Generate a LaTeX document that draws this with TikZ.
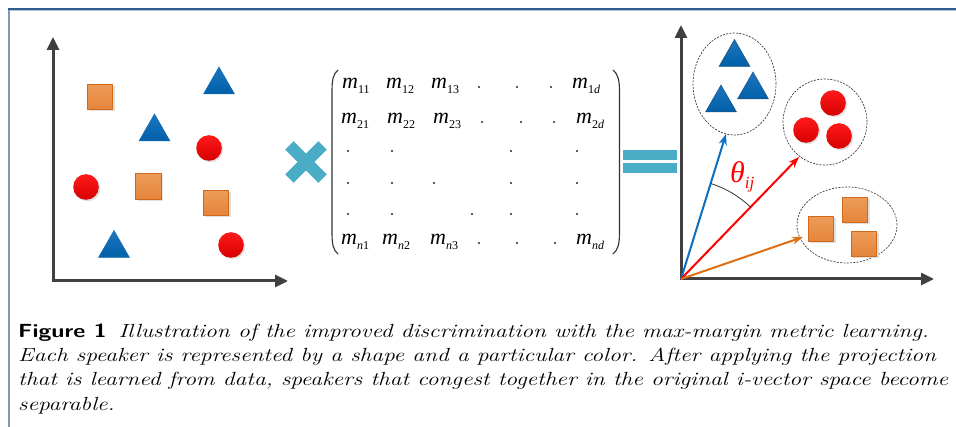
\documentclass[tikz,border=0pt]{standalone}
\usepackage{graphicx}
\usepackage{fontspec}
\newfontfamily\tnr{Liberation Serif}
\usetikzlibrary{arrows.meta,shapes.geometric}
\definecolor{triblue}{HTML}{0060A8}
\definecolor{triblueT}{HTML}{1C74C0}
\definecolor{triedge}{HTML}{1F4E79}
\definecolor{cred}{HTML}{EE0000}
\definecolor{credT}{HTML}{FF1A1A}
\definecolor{sqor}{HTML}{E5843A}
\definecolor{sqorT}{HTML}{EC9C58}
\definecolor{sqedge}{HTML}{D06A1A}
\definecolor{axisgray}{HTML}{404040}
\definecolor{xteal}{HTML}{4BACC6}
\definecolor{vblue}{HTML}{0B6FC2}
\definecolor{vred}{HTML}{FF0000}
\definecolor{vorange}{HTML}{DE6F14}
\definecolor{framecol}{HTML}{2F5C8F}
\definecolor{framecolL}{HTML}{7F97B8}
\newcommand\tri[3][triblueT!60!triblue]{\shade[shift={(#2,#3)},top color=triblueT,bottom color=triblue,draw=#1,line width=0.5pt] (-15.5,13.5) -- (0,-13.5) -- (15.5,13.5) -- cycle;}
\newcommand\rcirc[2]{\fill[black!12] (#1+1.5,#2+1.5) circle[radius=12.8];\shade[top color=credT,bottom color=cred!90!black] (#1,#2) circle[radius=12.8];}
\newcommand\sqr[2]{\fill[black!12,shift={(#1,#2)}] (-11,-11) rectangle (14.5,14.5);\shade[shift={(#1,#2)},top color=sqorT,bottom color=sqor,draw=sqedge,line width=0.7pt] (-12.75,-12.75) rectangle (12.75,12.75);}
\newcommand\mm[1]{{\tnr\itshape m}\raisebox{-5pt}{\tnr\fontsize{12}{12}\selectfont #1}}
\newcommand\ti[1]{{\itshape #1}}
\newcommand\capx[1]{\scalebox{1.235}[1]{#1}}
\tikzset{
  axis/.style={draw=axisgray,line width=3pt,-{Triangle[length=13pt,width=12pt]}},
  grp/.style={ellipse,draw=black!75,dash pattern=on 2pt off 1.3pt,line width=0.7pt,inner sep=0pt},
  vec/.style={line width=2pt,-{Stealth[length=11pt,width=8pt]}},
  ment/.style={anchor=base west,inner sep=0pt,font=\tnr\fontsize{22}{22}\selectfont},
  capl/.style={anchor=base west,inner sep=0pt,font=\fontsize{19}{24}\selectfont\itshape},
  mdot/.style={fill=black!85}
}
\begin{document}
\begin{tikzpicture}[x=1pt,y=-1pt]
\useasboundingbox (0,0) rectangle (956,427);
\fill[white] (0,0) rectangle (956,427);
% frame
\draw[framecolL,line width=1.5pt] (9,427) -- (9,9);
\draw[framecol,line width=1.5pt] (8.25,9) -- (956,9);
\draw[framecol!35,line width=0.8pt] (10,10.6) -- (956,10.6);
% ---- left panel
\coordinate (lo) at (53,281);
\coordinate (ly) at (53,37);
\coordinate (lx) at (288,281);
\draw[axis] ([yshift=-1.5pt]lo) -- (ly);
\draw[axis] ([xshift=-1.5pt]lo) -- (lx);
\sqr{100}{97}
\sqr{148.5}{186.5}
\sqr{216}{203}
\tri{219}{80.5}
\tri{154.5}{127.5}
\tri{114}{244}
\rcirc{209}{148}
\rcirc{86}{187}
\rcirc{231}{245}
% ---- multiply sign
\fill[xteal,shift={(306,162)},rotate=45] (-23.5,-6) rectangle (23.5,6);
\fill[xteal,shift={(306,162)},rotate=-45] (-23.5,-6) rectangle (23.5,6);
% ---- matrix
\draw[black!80,line width=1.1pt] (338,70) .. controls (333,74) and (332,80) .. (332,92) -- (332,232) .. controls (332,244) and (333,250) .. (338,254);
\draw[black!80,line width=1.1pt] (613,70) .. controls (618,74) and (619.5,80) .. (619.5,92) -- (619.5,232) .. controls (619.5,244) and (618,250) .. (613,254);
\node[ment] (m11) at (342,89) {\mm{11}};
\node[ment] (m12) at (386,89) {\mm{12}};
\node[ment] (m13) at (431,89) {\mm{13}};
\node[ment] (m1d) at (572,89) {\mm{1\ti{d}}};
\node[ment] (m21) at (341,124) {\mm{21}};
\node[ment] (m22) at (387,124) {\mm{22}};
\node[ment] (m23) at (433,124) {\mm{23}};
\node[ment] (m2d) at (576,124) {\mm{2\ti{d}}};
\node[ment] (mn1) at (341,245) {\mm{\ti{n}1}};
\node[ment] (mn2) at (382,245) {\mm{\ti{n}2}};
\node[ment] (mn3) at (430,245) {\mm{\ti{n}3}};
\node[ment] (mnd) at (576,245) {\mm{\ti{nd}}};
\foreach \x in {479,517,551} \fill[mdot] (\x,87) circle[radius=1.1];
\foreach \x in {482,521,554} \fill[mdot] (\x,122) circle[radius=1.1];
\foreach \x in {348,392,511,577} \fill[mdot] (\x,151) circle[radius=1.1];
\foreach \x in {348,392,434,511,577} \fill[mdot] (\x,183) circle[radius=1.1];
\foreach \x in {348,392,472,511,577} \fill[mdot] (\x,214) circle[radius=1.1];
\foreach \x in {479,517,555} \fill[mdot] (\x,243) circle[radius=1.1];
% ---- equals sign
\fill[xteal] (623,150) rectangle (677,160);
\fill[xteal] (623,163) rectangle (677,173);
% ---- right panel
\coordinate (o) at (681,279);
\coordinate (ry) at (681,25);
\coordinate (rx) at (934,279);
\draw[axis] ([yshift=-1.5pt]o) -- (ry);
\draw[axis] ([xshift=-1.5pt]o) -- (rx);
\node[grp,minimum width=83pt,minimum height=102pt] (gT) at (734.5,84) {};
\node[grp,minimum width=84pt,minimum height=86pt] (gC) at (825,122) {};
\node[grp,minimum width=100pt,minimum height=76pt] (gS) at (847,225) {};
\tri[triedge]{734.5}{53}
\tri[triedge]{753}{85.5}
\tri[triedge]{721}{98.5}
\rcirc{833}{103}
\rcirc{806}{130}
\rcirc{839}{136}
\sqr{821}{229}
\sqr{855}{210}
\sqr{864}{244}
\coordinate (bt) at (726,134);
\coordinate (rt) at (799,157);
\coordinate (ot) at (803,237);
\draw[vec,vblue] (o) -- (bt);
\draw[vec,vred] (o) -- (rt);
\draw[vec,vorange] (o) -- (ot);
\draw[black!80,line width=0.8pt] ([shift={(-72.8:100)}]o) arc[start angle=-72.8,end angle=-46,radius=100];
\node[text=red,inner sep=0pt,anchor=base west,font=\tnr\fontsize{30}{30}\selectfont] (th) at (730,183) {\itshape θ\raisebox{-6pt}{\fontsize{17}{17}\selectfont ij}};
% ---- caption
\node[capl] (c1) at (18,338) {\capx{{\upshape\sffamily\bfseries Figure 1}\enskip Illustration of the improved discrimination with the max-margin metric learning.}};
\node[capl] (c2) at (18,362) {\capx{Each speaker is represented by a shape and a particular color. After applying the projection}};
\node[capl] (c3) at (18,386) {\capx{that is learned from data, speakers that congest together in the original i-vector space become}};
\node[capl] (c4) at (18,410) {\capx{separable.}};
\end{tikzpicture}
\end{document}
